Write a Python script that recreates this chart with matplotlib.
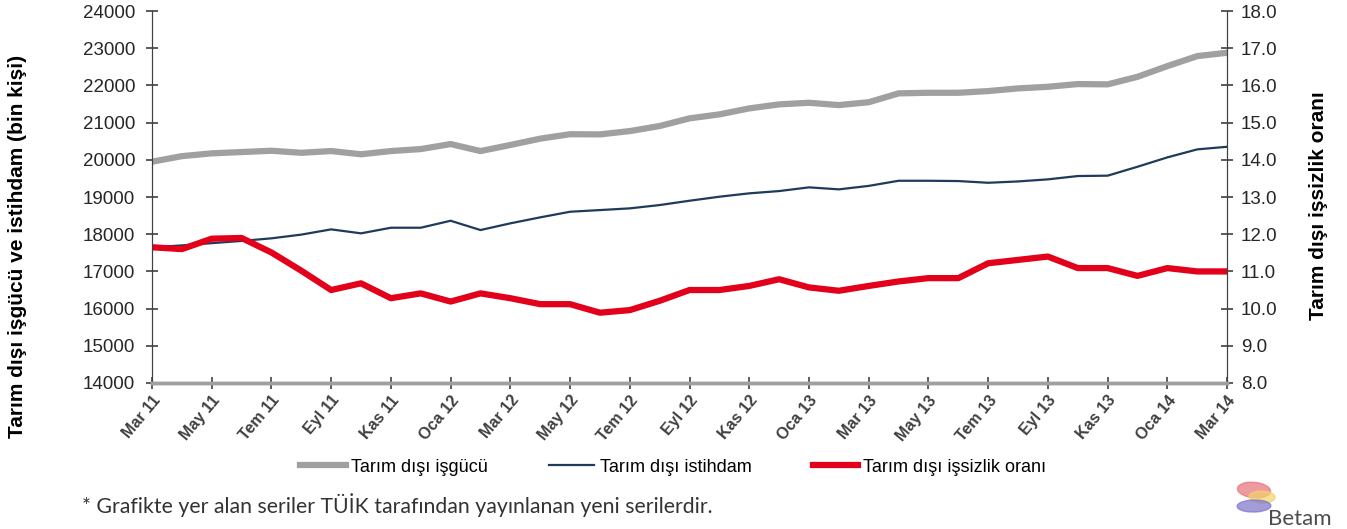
import matplotlib.pyplot as plt
from matplotlib.patches import Ellipse
import numpy as np

# monthly, Mar 2011 .. Mar 2014
months = ["Mar 11", "Nis 11", "May 11", "Haz 11", "Tem 11", "Ağu 11", "Eyl 11", "Eki 11", "Kas 11", "Ara 11",
          "Oca 12", "Şub 12", "Mar 12", "Nis 12", "May 12", "Haz 12", "Tem 12", "Ağu 12", "Eyl 12", "Eki 12",
          "Kas 12", "Ara 12", "Oca 13", "Şub 13", "Mar 13", "Nis 13", "May 13", "Haz 13", "Tem 13", "Ağu 13",
          "Eyl 13", "Eki 13", "Kas 13", "Ara 13", "Oca 14", "Şub 14", "Mar 14"]

isgucu = [19950, 20100, 20175, 20210, 20245, 20190, 20237, 20150, 20237, 20290,
          20425, 20237, 20400, 20570, 20690, 20685, 20774, 20910, 21116, 21223,
          21384, 21492, 21535, 21473, 21550, 21788, 21804, 21804, 21850, 21922,
          21965, 22038, 22030, 22234, 22521, 22790, 22880]

istihdam = [17650, 17700, 17760, 17820, 17890, 17990, 18131, 18024, 18175, 18175,
            18363, 18113, 18293, 18454, 18605, 18650, 18696, 18785, 18901, 19009,
            19100, 19161, 19261, 19207, 19300, 19438, 19438, 19430, 19384, 19420,
            19476, 19565, 19575, 19815, 20067, 20282, 20352]

issizlik = [11.65, 11.6, 11.88, 11.9, 11.51, 11.02, 10.5, 10.68, 10.28, 10.41,
            10.19, 10.41, 10.28, 10.12, 10.12, 9.89, 9.96, 10.21, 10.5, 10.5,
            10.61, 10.79, 10.57, 10.48, 10.61, 10.73, 10.82, 10.82, 11.22, 11.31,
            11.4, 11.09, 11.09, 10.88, 11.09, 11.0, 11.0]

plt.rcParams['font.family'] = ['Liberation Sans', 'DejaVu Sans']

W, H = 1347.0, 529.0

def logo(fig):
    # rough Betam swirl, pixel coords -> figure fraction
    parts = [((1254, 490), 32, 16, 20, "#e8707a"),
             ((1262, 497), 26, 12, 10, "#f3d36b"),
             ((1254, 506), 34, 12, 15, "#7b74c9")]
    for (cx, cy), w, h, ang, col in parts:
        fig.patches.append(Ellipse((cx / W, 1 - cy / H), w / W, h / H, angle=ang,
                                   color=col, alpha=0.7, transform=fig.transFigure))
    fig.text(1268 / W, 0.008, "Betam", fontsize=16, color="#4d4d4d",
             family=["Lato", "DejaVu Sans"])

def main():
    x = np.arange(len(months))
    fig = plt.figure(figsize=(13.47, 5.29), dpi=100)
    ax = fig.add_axes([0.1128, 0.276, 0.7982, 0.703])
    ax2 = ax.twinx()

    l1, = ax.plot(x, isgucu, color="#a0a0a0", linewidth=4.5, solid_joinstyle="round",
                  label="Tarım dışı işgücü")
    l2, = ax.plot(x, istihdam, color="#1f3b5c", linewidth=1.6, label="Tarım dışı istihdam")
    l3, = ax2.plot(x, issizlik, color="#e3001b", linewidth=4.5, solid_joinstyle="round",
                   label="Tarım dışı işsizlik oranı")

    ax.set_xlim(0, 36)
    ax.set_ylim(14000, 24000)
    ax2.set_ylim(8.0, 18.0)
    ax.set_yticks(np.arange(14000, 24001, 1000))
    ax2.set_yticks(np.arange(8, 18.01, 1))
    ax2.set_yticklabels(["%.1f" % v for v in np.arange(8, 18.01, 1)])

    ax.set_xticks(x[::2])
    ax.set_xticklabels(months[::2], rotation=50, ha="right", rotation_mode="anchor",
                       fontsize=11.5, fontweight="bold", color="#262626")

    for a in (ax, ax2):
        a.spines["top"].set_visible(False)
        a.spines["left"].set_color("#404040")
        a.spines["right"].set_color("#404040")
        a.spines["bottom"].set_color("#a0a0a0")
        a.spines["bottom"].set_linewidth(2.5)
        a.tick_params(axis="y", direction="inout", length=8, width=1.2, colors="#404040",
                      labelsize=13.5, labelcolor="#262626")
    ax.tick_params(axis="y", pad=8)
    ax2.tick_params(axis="y", pad=6)
    ax.tick_params(axis="x", direction="inout", length=8, width=1.2, colors="#404040", pad=3)

    ax.set_ylabel("Tarım dışı işgücü ve istihdam (bin kişi)", fontsize=15, fontweight="bold")
    ax.yaxis.set_label_coords(-0.116, 0.366)
    ax2.set_ylabel("Tarım dışı işsizlik oranı", fontsize=15, fontweight="bold")
    ax2.yaxis.set_label_coords(1.076, 0.476)

    fig.legend(handles=[l1, l2, l3], loc="center", bbox_to_anchor=(0.5, 0.117), ncol=3,
               frameon=False, fontsize=13, handlelength=2.5, columnspacing=3.4,
               handletextpad=0.3)

    fig.text(0.061, 0.03, "* Grafikte yer alan seriler TÜİK tarafından yayınlanan yeni serilerdir.",
             fontsize=15.3, family=["Lato", "DejaVu Sans"], color="#333333")
    logo(fig)

    fig.savefig("out.png", dpi=100)


if __name__ == '__main__':
    main()
